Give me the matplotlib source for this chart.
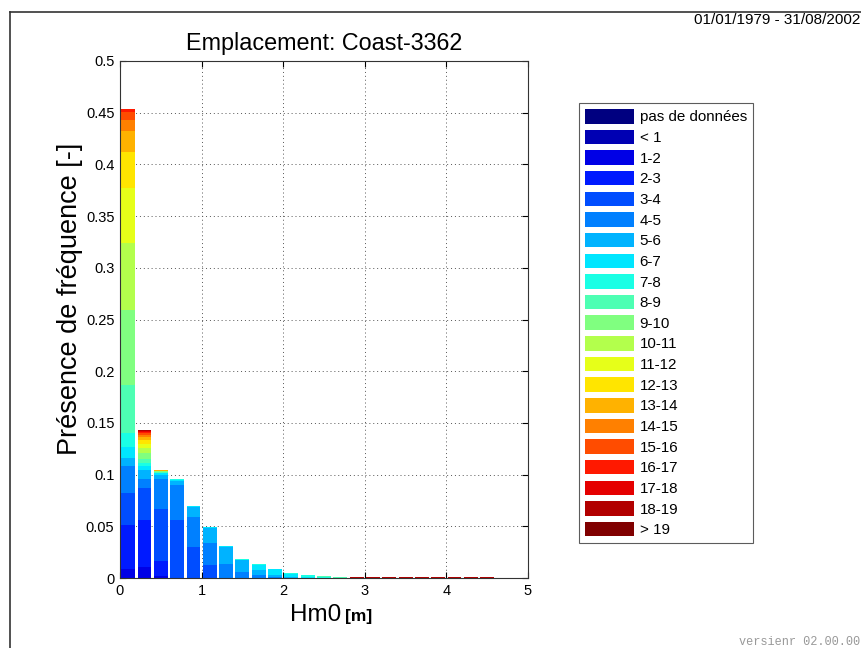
import numpy as np
import matplotlib
matplotlib.use("Agg")
import matplotlib.pyplot as plt
from matplotlib.lines import Line2D

plt.rcParams['font.family'] = ['Liberation Sans', 'DejaVu Sans']

# Hm0 bin centres [m]
hm0 = [0.1, 0.3, 0.5, 0.7, 0.9, 1.1, 1.3, 1.5, 1.7, 1.9, 2.1, 2.3, 2.5, 2.7,
       2.9, 3.1, 3.3, 3.5, 3.7, 3.9, 4.1, 4.3, 4.5]

period_labels = ['pas de données', '< 1', '1-2', '2-3', '3-4', '4-5', '5-6', '6-7',
                 '7-8', '8-9', '9-10', '10-11', '11-12', '12-13', '13-14', '14-15',
                 '15-16', '16-17', '17-18', '18-19', '> 19']

# frequency of presence per period class (one value per Hm0 bin)
f_nodata = [0]*23
f_lt1    = [0]*23
f_1_2    = [0.009, 0.011, 0.002] + [0]*20
f_2_3    = [0.042, 0.045, 0.014] + [0]*20
f_3_4    = [0.031, 0.031, 0.051, 0.056, 0.030, 0.013] + [0]*17
f_4_5    = [0.026, 0.009, 0.029, 0.034, 0.029, 0.021, 0.014, 0.006, 0.003, 0.001] + [0]*13
f_5_6    = [0.008, 0.008, 0.004, 0.004, 0.0095, 0.014, 0.016, 0.011, 0.005, 0.002, 0.0005] + [0]*12
f_6_7    = [0.011, 0.004, 0.0015, 0.001, 0.0008, 0.0012, 0.0008, 0.0007, 0.005, 0.0055, 0.003, 0.001] + [0]*11
f_7_8    = [0.013, 0.003, 0.0005, 0.0003, 0.0003, 0.0004, 0.0005, 0.0003, 0.0005, 0.0005, 0.0017, 0.0015, 0.0008] + [0]*10
f_8_9    = [0.047, 0.0045, 0.0005, 0.0002, 0, 0, 0, 0, 0, 0, 0, 0.0005, 0.001, 0.0005] + [0]*9
f_9_10   = [0.072, 0.005, 0.0005, 0, 0, 0, 0, 0, 0, 0, 0, 0, 0.0002, 0.0005] + [0]*9
f_10_11  = [0.065, 0.005, 0.0003] + [0]*20
f_11_12  = [0.053, 0.0045, 0.0003] + [0]*20
f_12_13  = [0.035, 0.0035, 0.0003] + [0]*20
f_13_14  = [0.020, 0.003, 0.0002] + [0]*20
f_14_15  = [0.011, 0.002, 0.0002] + [0]*20
f_15_16  = [0.008, 0.0015, 0.0002] + [0]*20
f_16_17  = [0.003, 0.0015] + [0]*21
f_17_18  = [0, 0.001] + [0]*21
f_18_19  = [0, 0.0005] + [0]*12 + [0.0005]*9
f_gt19   = [0]*23

series = [f_nodata, f_lt1, f_1_2, f_2_3, f_3_4, f_4_5, f_5_6, f_6_7, f_7_8, f_8_9,
          f_9_10, f_10_11, f_11_12, f_12_13, f_13_14, f_14_15, f_15_16, f_16_17,
          f_17_18, f_18_19, f_gt19]


def matlab_jet(x):
    r = np.interp(x, [0, 0.375, 0.625, 0.875, 1.0], [0, 0, 1, 1, 0.5])
    g = np.interp(x, [0, 0.125, 0.375, 0.625, 0.875, 1.0], [0, 0, 1, 1, 0, 0])
    b = np.interp(x, [0, 0.125, 0.375, 0.625, 1.0], [0.5, 1, 1, 0, 0])
    return np.column_stack([r, g, b])


colors = matlab_jet(np.linspace(0, 1, len(period_labels)))

fig = plt.figure(figsize=(8.61, 6.48), dpi=100)
ax = fig.add_axes([120/861, 1-578/648, 408/861, 517/648])

bottom = np.zeros(len(hm0))
handles = []
for lab, vals, c in zip(period_labels, series, colors):
    vals = np.array(vals, dtype=float)
    b = ax.bar(hm0, vals, width=0.17, bottom=bottom, color=c, linewidth=0, label=lab)
    handles.append(b)
    bottom += vals

ax.set_xlim(0, 5)
ax.set_ylim(0, 0.5)
ax.set_xticks([0, 1, 2, 3, 4, 5])
ax.set_yticks(np.arange(0, 0.501, 0.05))
ax.set_yticklabels(['0', '0.05', '0.1', '0.15', '0.2', '0.25', '0.3', '0.35', '0.4', '0.45', '0.5'])
ax.grid(True, linestyle=(0, (1, 3)), color='#555555', linewidth=0.7)
ax.set_axisbelow(True)
ax.tick_params(direction='in', length=4, labelsize=10.5, top=True, right=True, pad=4)
for s in ax.spines.values():
    s.set_color('#333333')
    s.set_linewidth(0.8)

ax.set_title('Emplacement: Coast-3362', fontsize=16.8, pad=8)
ax.set_ylabel('Présence de fréquence [-]', fontsize=19.5)
ax.yaxis.set_label_coords((83 - 120) / 408, (578 - 299) / 517)

fig.text(341/861, 1-615/648, 'Hm0', fontsize=17.5, ha='right', va='center')
fig.text(345/861, 1-617/648, '[m]', fontsize=12.5, fontweight='bold', ha='left', va='center')

leg = fig.legend(handles=handles, labels=period_labels, loc='upper left',
                 bbox_to_anchor=(579/861, 1-103/648), fontsize=10.9,
                 handlelength=3.2, handleheight=1.1, labelspacing=0.345,
                 handletextpad=0.4, borderpad=0.4, fancybox=False, frameon=True,
                 borderaxespad=0)
leg.get_frame().set_edgecolor('#333333')
leg.get_frame().set_linewidth(0.8)

fig.text(860/861, 1-20/648, '01/01/1979 - 31/08/2002', fontsize=11, ha='right', va='center')
fig.text(860/861, 1-642/648, 'versienr 02.00.00', fontsize=8.6, family='Liberation Mono',
         color='#999999', ha='right', va='center')

fig.add_artist(Line2D([10/861, 10/861], [0, 1-12/648], transform=fig.transFigure,
                      color='#333333', linewidth=1.2))
fig.add_artist(Line2D([10/861, 1], [1-12/648, 1-12/648], transform=fig.transFigure,
                      color='#333333', linewidth=1.2))

fig.savefig('out.png', dpi=100)
